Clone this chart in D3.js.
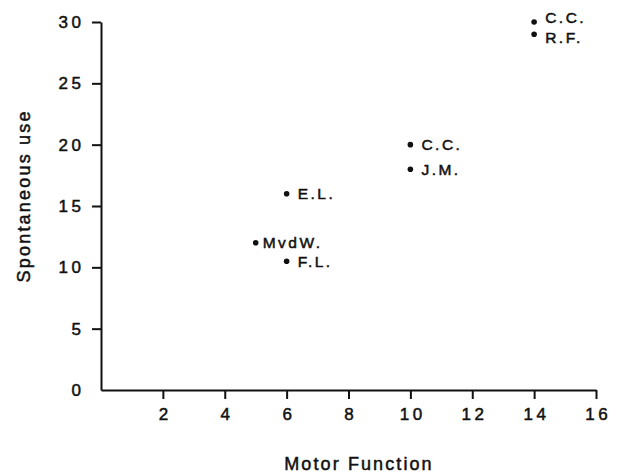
<!DOCTYPE html>
<html>
<head>
<meta charset="utf-8">
<script src="https://cdn.jsdelivr.net/npm/d3@7"></script>
<style>
  body { margin: 0; background: #fff; }
  svg text { font-family: "Liberation Sans", Arial, sans-serif; fill: #111; stroke: #111; stroke-width: 0.5px; }
</style>
</head>
<body>
<div id="chart"></div>
<script>
// values
const names = ["C.C.", "R.F.", "C.C.", "J.M.", "E.L.", "MvdW.", "F.L."];
const motorFunction = [14, 14, 10, 10, 6, 5, 6];
const spontaneousUse = [30, 29, 20, 18, 16, 12, 10.5];
const xTicks = [2, 4, 6, 8, 10, 12, 14, 16];
const yTicks = [0, 5, 10, 15, 20, 25, 30];

const width = 618, height = 475;
const points = names.map((n, i) => ({name: n, x: motorFunction[i], y: spontaneousUse[i], i: i}));

const x = d3.scaleLinear().domain([0, 16]).range([101, 596]);
const y = d3.scaleLinear().domain([0, 30]).range([390, 22]);

const tickLs = 3.5;

const svg = d3.select("#chart").append("svg")
    .attr("width", width)
    .attr("height", height);

// x axis
const xAxis = svg.append("g")
    .attr("transform", "translate(0," + y(0) + ")")
    .call(d3.axisBottom(x).tickValues(xTicks).tickSize(9).tickPadding(9).tickSizeOuter(0));
xAxis.select(".domain").attr("stroke", "#111").attr("stroke-width", 2);
xAxis.selectAll(".tick line").attr("stroke", "#111").attr("stroke-width", 2);
xAxis.selectAll(".tick text")
    .attr("font-size", 17)
    .attr("letter-spacing", tickLs)
    .attr("dx", tickLs / 2);

// y axis
const yAxis = svg.append("g")
    .attr("transform", "translate(" + x(0) + ",0)")
    .call(d3.axisLeft(y).tickValues(yTicks).tickSize(9).tickPadding(11 - tickLs).tickSizeOuter(0));
yAxis.select(".domain").attr("stroke", "#111").attr("stroke-width", 2);
yAxis.selectAll(".tick line")
    .attr("stroke", "#111")
    .attr("stroke-width", 2)
    .attr("display", d => d === 0 ? "none" : null);
yAxis.selectAll(".tick text")
    .attr("font-size", 17)
    .attr("letter-spacing", tickLs);

// points
svg.append("g")
  .selectAll("circle")
  .data(points)
  .join("circle")
    .attr("cx", d => x(d.x))
    .attr("cy", d => y(d.y))
    .attr("r", 2.8)
    .attr("fill", "#111");

// the two top labels sit a bit apart so they do not touch
function nudge(d) {
    if (d.i === 0) return -4;
    if (d.i === 1) return 3;
    return 0;
}

svg.append("g")
  .selectAll("text")
  .data(points)
  .join("text")
    .attr("x", d => x(d.x) + (d.name === "MvdW." ? 7 : 11))
    .attr("y", d => y(d.y) + nudge(d))
    .attr("dy", "0.35em")
    .attr("font-size", 15.5)
    .attr("letter-spacing", 2.5)
    .text(d => d.name);

// axis titles
svg.append("text")
    .attr("x", 358 + 1)
    .attr("y", 470)
    .attr("text-anchor", "middle")
    .attr("font-size", 18)
    .attr("letter-spacing", 2.1)
    .text("Motor Function");

svg.append("text")
    .attr("transform", "translate(30,197) rotate(-90)")
    .attr("text-anchor", "middle")
    .attr("font-size", 18)
    .attr("letter-spacing", 2.2)
    .attr("dx", 1.1)
    .text("Spontaneous use");
</script>
</body>
</html>
